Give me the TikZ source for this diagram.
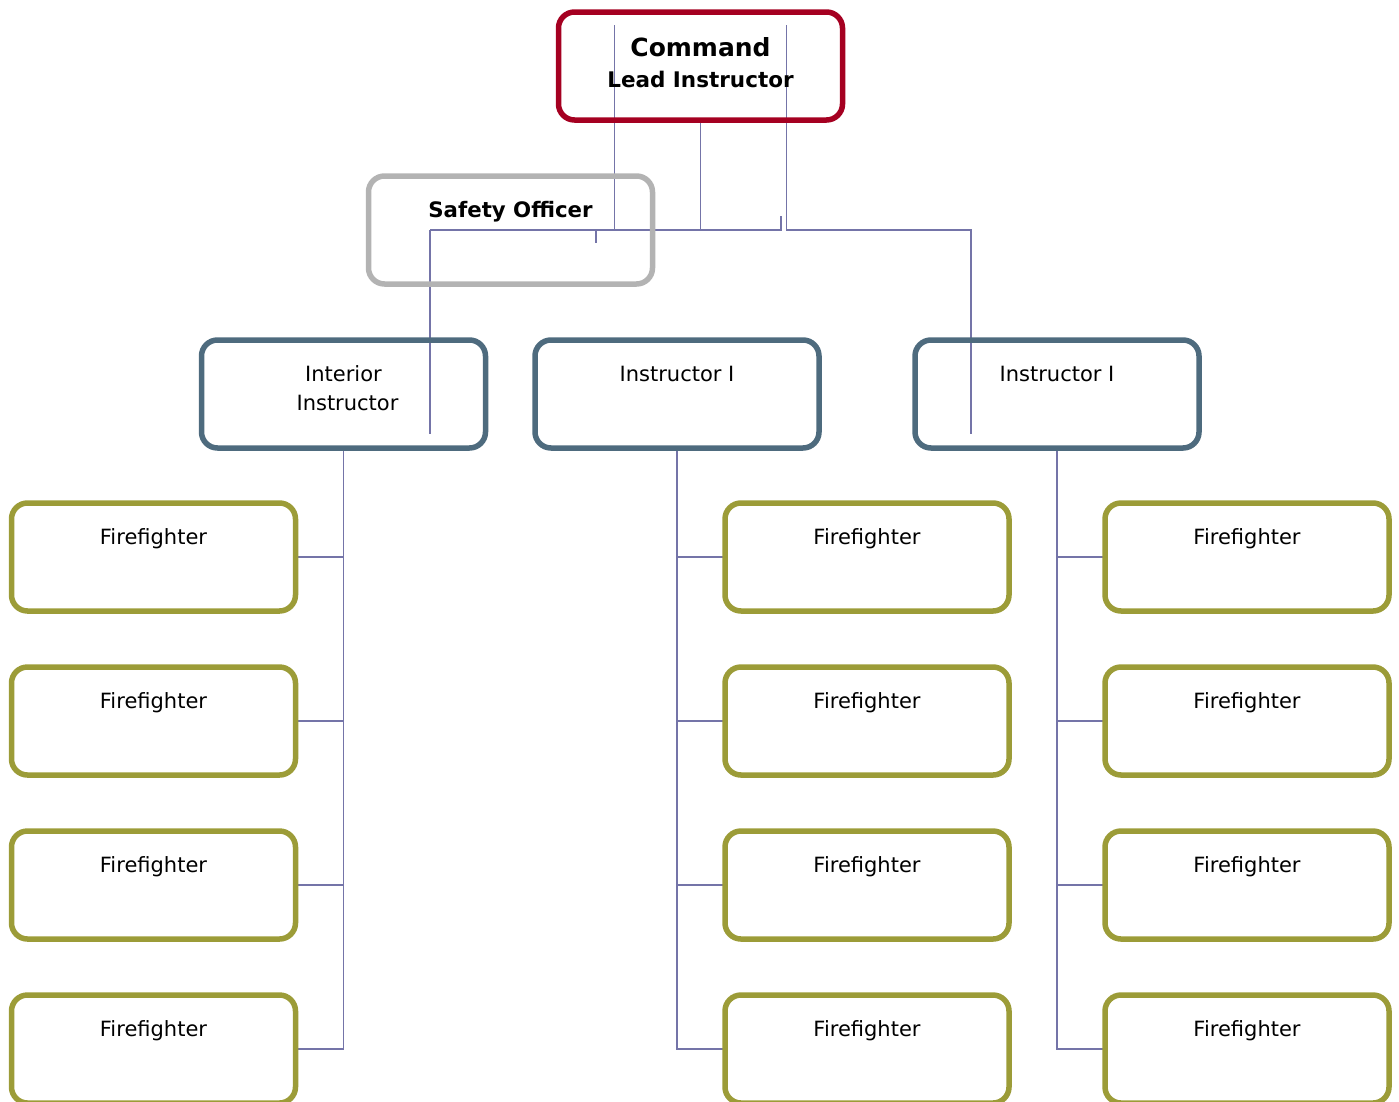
\documentclass[tikz,border=0pt]{standalone}
\usepackage{fontspec}
\setmainfont{DejaVu Sans}
\definecolor{cmdred}{HTML}{A50021}
\definecolor{safegray}{HTML}{B3B3B3}
\definecolor{instblue}{HTML}{4E6B7E}
\definecolor{ffolive}{HTML}{9C9C38}
\definecolor{connc}{HTML}{7474A8}
\pgfdeclarelayer{bg}
\pgfsetlayers{bg,main}
\tikzset{
  box/.style={draw, rectangle, rounded corners=16pt, line width=5.5pt,
    minimum width=284pt, minimum height=108pt, inner sep=0pt, outer sep=0pt},
  cmdbox/.style={box, draw=cmdred},
  safebox/.style={box, draw=safegray},
  instbox/.style={box, draw=instblue},
  ffbox/.style={box, draw=ffolive},
  txt/.style={anchor=base, inner sep=0pt, font=\fontsize{21}{29}\selectfont, align=center},
  conn/.style={draw=connc, line width=1.8pt},
}
\begin{document}
\begin{tikzpicture}[x=1pt,y=-1pt]
\useasboundingbox (0,0) rectangle (1399,1101);
% boxes
\node[cmdbox] (cmd) at (700.5,66) {};
\node[safebox] (saf) at (510.5,230) {};
\node[instbox] (ii) at (343.5,394) {};
\node[instbox] (i1) at (677,394) {};
\node[instbox] (i2) at (1057,394) {};
\foreach \r/\y in {1/557,2/721,3/885,4/1049}{
  \node[ffbox] (fa\r) at (153.5,\y) {};
  \node[ffbox] (fb\r) at (867,\y) {};
  \node[ffbox] (fc\r) at (1247,\y) {};
  \node[txt] (tfa\r) at ([yshift=-41pt]fa\r.north) {Firefighter};
  \node[txt] (tfb\r) at ([yshift=-41pt]fb\r.north) {Firefighter};
  \node[txt] (tfc\r) at ([yshift=-41pt]fc\r.north) {Firefighter};
}
% texts
\node[txt, font=\fontsize{25}{30}\selectfont\bfseries] (tcmd) at ([yshift=-44.5pt]cmd.north) {Command};
\node[txt, font=\fontsize{21.5}{25}\selectfont\bfseries] (tlead) at ([yshift=-75.5pt]cmd.north) {Lead Instructor};
\node[txt, font=\fontsize{21.3}{25}\selectfont\bfseries] (tsaf) at ([yshift=-41pt]saf.north) {Safety Officer};
\node[txt] (tii1) at ([xshift=0pt,yshift=-41pt]ii.north) {Interior};
\node[txt] (tii2) at ([xshift=4pt,yshift=-70pt]ii.north) {Instructor};
\node[txt] (ti1) at ([yshift=-41pt]i1.north) {Instructor I};
\node[txt] (ti2) at ([yshift=-41pt]i2.north) {Instructor I};
% connectors
\coordinate (busL) at (430,230);
\coordinate (busR) at (781,230);
\coordinate (lineA) at (614.5,25);
\coordinate (lineB) at (786.5,25);
\coordinate (tick) at (596,230);
\coordinate (dropL) at (430,434);
\coordinate (dropR) at (971,434);
\begin{pgfonlayer}{bg}
\draw[conn] (cmd.south) -- (cmd.south |- busL);
\draw[conn] (busL) -- (busR) -- ++(0,-14);
\draw[conn] (tick) -- ++(0,13);
\draw[conn] (lineA) -- (lineA |- busL);
\draw[conn] (lineB) -- (lineB |- busL) -- (dropR |- busL) -- (dropR);
\draw[conn] (busL) -- (dropL);
\draw[conn] (ii.south) -- (ii.south |- fa4.east) -- (fa4.east);
\draw[conn] (i1.south) -- (i1.south |- fb4.west) -- (fb4.west);
\draw[conn] (i2.south) -- (i2.south |- fc4.west) -- (fc4.west);
\foreach \r in {1,2,3}{
  \draw[conn] (fa\r.east) -- (ii.south |- fa\r.east);
  \draw[conn] (fb\r.west) -- (i1.south |- fb\r.west);
  \draw[conn] (fc\r.west) -- (i2.south |- fc\r.west);
}
\end{pgfonlayer}
\end{tikzpicture}
\end{document}
